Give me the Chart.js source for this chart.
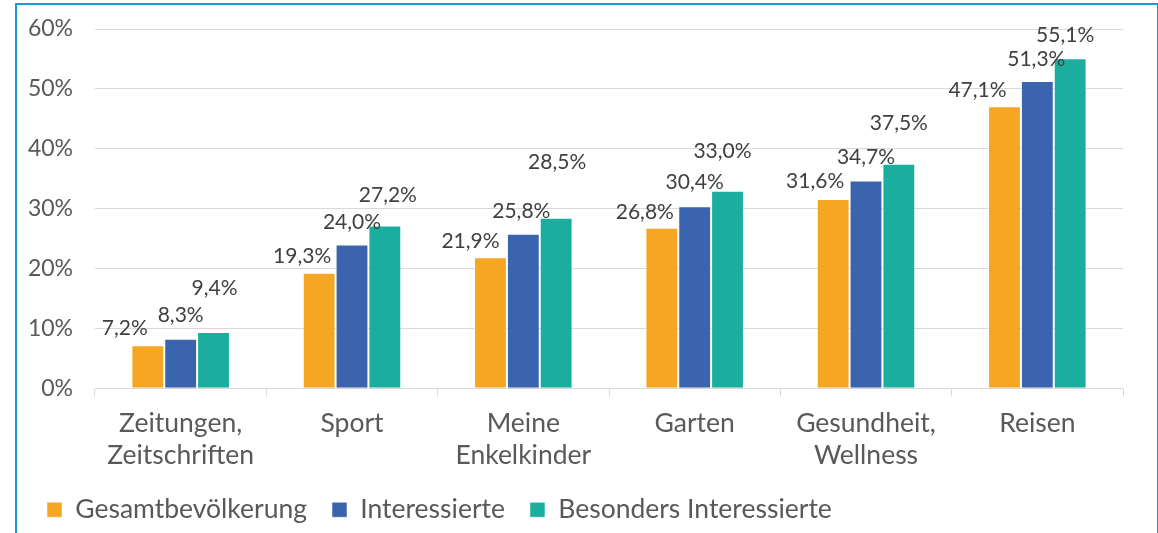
<!DOCTYPE html>
<html lang="de">
<head>
    <meta charset="UTF-8">
    <title>Interessen</title>
    <script src="https://cdn.jsdelivr.net/npm/chart.js"></script>
    <style>
        body { margin: 0; background: #fff; font-family: Lato, sans-serif; }
        #frame { position: absolute; left: 15px; top: 3px; width: 1140px; height: 540px;
                 border-left: 2px solid #1b9ad7; border-top: 2px solid #1b9ad7; border-right: 2px solid #1b9ad7; }
        #wrap { position: absolute; left: 17px; top: 5px; width: 1139px; height: 528px; }
    </style>
</head>
<body>
    <div id="frame"></div>
    <div id="wrap"><canvas id="chart"></canvas></div>

    <script>
        const categories = [['Zeitungen,', 'Zeitschriften'], 'Sport', ['Meine', 'Enkelkinder'], 'Garten', ['Gesundheit,', 'Wellness'], 'Reisen'];
        const seriesNames = ['Gesamtbevölkerung', 'Interessierte', 'Besonders Interessierte'];
        const gesamt = [7.2, 19.3, 21.9, 26.8, 31.6, 47.1];
        const interessierte = [8.3, 24.0, 25.8, 30.4, 34.7, 51.3];
        const besonders = [9.4, 27.2, 28.5, 33.0, 37.5, 55.1];
        const yTicks = [0, 10, 20, 30, 40, 50, 60];

        const colors = ['#f5a623', '#3a64ae', '#1bae9f'];

        // label offsets (px) from bar top centre, as placed by hand in the original
        const labelDx = [
            [-23, -17, -20, -17, -18, -27],
            [0, 0, -2, 0, 0, -1],
            [1, 3, 1, -5, 0, -5]
        ];
        const labelDy = [
            [17, 17, 16, 16, 18, 16],
            [23, 22, 23, 24, 23, 22],
            [44, 30, 55, 39, 41, 23]
        ];

        const fmt = v => v.toFixed(1).replace('.', ',') + '%';

        const valueLabels = {
            id: 'valueLabels',
            afterDatasetsDraw(chart) {
                const ctx = chart.ctx;
                ctx.save();
                ctx.font = '21px Lato';
                ctx.fillStyle = '#404040';
                ctx.textAlign = 'center';
                ctx.textBaseline = 'middle';
                chart.data.datasets.forEach((ds, i) => {
                    chart.getDatasetMeta(i).data.forEach((bar, j) => {
                        ctx.fillText(fmt(ds.data[j]), bar.x + labelDx[i][j], bar.y - labelDy[i][j]);
                    });
                });
                ctx.restore();
            }
        };

        const series = [gesamt, interessierte, besonders];

        new Chart(document.getElementById('chart'), {
            type: 'bar',
            data: {
                labels: categories,
                datasets: series.map((d, i) => ({
                    label: seriesNames[i],
                    data: d,
                    backgroundColor: colors[i],
                    borderColor: 'rgba(255,255,255,0.5)',
                    borderWidth: 1,
                    categoryPercentage: 0.575,
                    barPercentage: 1
                }))
            },
            options: {
                responsive: true,
                maintainAspectRatio: false,
                animation: false,
                layout: { padding: { top: 24, right: 33, left: 5, bottom: 0 } },
                plugins: {
                    tooltip: { enabled: false },
                    legend: {
                        position: 'bottom',
                        align: 'start',
                        labels: {
                            font: { family: 'Lato', size: 26.5, lineHeight: 1.1 },
                            color: '#595959',
                            boxWidth: 15,
                            boxHeight: 15,
                            padding: 25
                        }
                    }
                },
                scales: {
                    y: {
                        min: 0,
                        max: 60,
                        afterBuildTicks: s => { s.ticks = yTicks.map(v => ({ value: v })); },
                        afterFit: s => { s.width = 73; s.paddingTop = 0; },
                        ticks: {
                            padding: 22,
                            color: '#595959',
                            font: { family: 'Lato', size: 23 },
                            callback: v => v + '%'
                        },
                        grid: { color: '#d9d9d9', drawTicks: false },
                        border: { display: false }
                    },
                    x: {
                        afterFit: s => { s.height -= 11; },
                        ticks: {
                            padding: 11,
                            color: '#595959',
                            font: { family: 'Lato', size: 26.5, lineHeight: 1.21 }
                        },
                        grid: { display: true, drawOnChartArea: false, drawTicks: true, tickLength: 8, color: '#d9d9d9' },
                        border: { display: true, color: '#d9d9d9' }
                    }
                }
            },
            plugins: [valueLabels]
        });
    </script>
</body>
</html>
